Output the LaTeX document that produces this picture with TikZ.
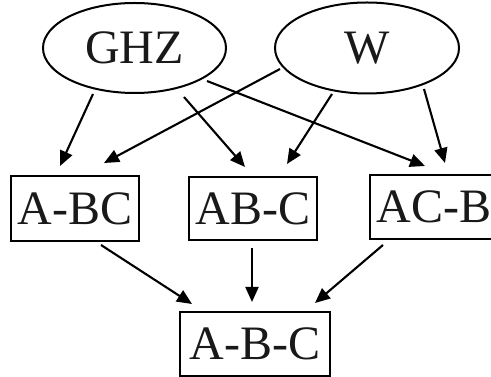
\documentclass[tikz,border=0pt]{standalone}
\usepackage{fontspec}
\setmainfont{Liberation Serif}
\usetikzlibrary{arrows.meta,calc,shapes.geometric}
\begin{document}
\begin{tikzpicture}[x=1pt,y=1pt,
  every node/.style={font=\fontsize{48}{56}\selectfont, line width=2pt, inner sep=0pt, text=black!90},
  st/.style={draw, ellipse, minimum width=183pt, minimum height=90pt},
  bx/.style={draw, rectangle, minimum width=128pt, minimum height=64pt},
  arr/.style={line width=2.1pt, -{Triangle[length=15pt,width=13pt]}}]
\useasboundingbox (0,0) rectangle (491,377);
\node[st] (ghz) at (134.5,329) {GHZ};
\node[st, minimum width=184pt, minimum height=91pt] (w) at (367,329) {W};
\node[bx, minimum height=65pt] (abc) at (75,168.5) {A-BC};
\node[bx, minimum height=63pt] (abmc) at (253,168.5) {AB-C};
\node[bx] (acb) at (434,170) {AC-B};
\node[bx, minimum width=150pt] (all) at (255,33) {A-B-C};
% top arrows
\draw[arr] ($(ghz.center)+(-41.5,-46)$) -- ($(abc.north)+(-15,9)$);
\draw[arr] ($(ghz.center)+(49.5,-49)$) -- ($(abmc.north)+(-8,9)$);
\draw[arr] ($(ghz.center)+(72.5,-33)$) -- ($(acb.north)+(-9,8)$);
\draw[arr] ($(w.center)+(-87,-21)$) -- ($(abc.north)+(29,12)$);
\draw[arr] ($(w.center)+(-35,-46)$) -- ($(abmc.north)+(34,12)$);
\draw[arr] ($(w.center)+(57,-41)$) -- ($(acb.north)+(11,11)$);
% bottom arrows
\draw[arr] ($(abc.south)+(26,-3)$) -- ($(all.north)+(-63,7)$);
\draw[arr] ($(abmc.south)+(-1,-7)$) -- ($(all.north)+(-3,9)$);
\draw[arr] ($(acb.south)+(-51,-5)$) -- ($(all.north)+(60,8)$);
\end{tikzpicture}
\end{document}
